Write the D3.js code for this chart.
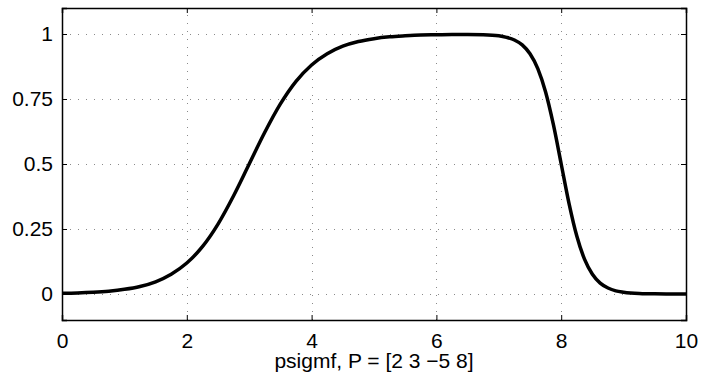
<!DOCTYPE html>
<html>
<head>
<meta charset="utf-8">
<script src="https://cdn.jsdelivr.net/npm/d3@7"></script>
<style>
  body { margin: 0; background: #fff; }
  svg { display: block; font-family: "Liberation Sans", Arial, sans-serif; }
</style>
</head>
<body>
<script>
// values
var xs = [0, 0.25, 0.5, 0.75, 1, 1.25, 1.5, 1.75, 2, 2.25, 2.5, 2.75, 3, 3.25, 3.5, 3.75,
          4, 4.25, 4.5, 4.75, 5, 5.25, 5.5, 5.75, 6, 6.25, 6.5, 6.75, 7, 7.125, 7.25, 7.375,
          7.5, 7.625, 7.75, 7.875, 8, 8.125, 8.25, 8.375, 8.5, 8.625, 8.75, 8.875, 9, 9.25,
          9.5, 9.75, 10];
var ys = [0.0025, 0.004, 0.0067, 0.011, 0.018, 0.029, 0.047, 0.076, 0.119, 0.182, 0.269, 0.378,
          0.5, 0.622, 0.731, 0.818, 0.881, 0.924, 0.953, 0.971, 0.982, 0.989, 0.993, 0.996,
          0.997, 0.998, 0.998, 0.997, 0.993, 0.987, 0.977, 0.958, 0.924, 0.867, 0.777, 0.651,
          0.5, 0.349, 0.223, 0.133, 0.076, 0.042, 0.023, 0.012, 0.007, 0.002, 0.0005, 0.0002, 0];
var xTicks = [0, 2, 4, 6, 8, 10];
var yTicks = [0, 0.25, 0.5, 0.75, 1];
var yTickLabels = ["0", "0.25", "0.5", "0.75", "1"];
var title = "psigmf, P = [2 3 \u22125 8]";

var width = 701, height = 374;
var mLeft = 62, mRight = 686, mTop = 8, mBottom = 320;

var svg = d3.select("body").append("svg")
    .attr("width", width)
    .attr("height", height);

var x = d3.scaleLinear().domain([0, 10]).range([mLeft, mRight]);
var y = d3.scaleLinear().domain([-0.1, 1.1]).range([mBottom, mTop]);

// grid
var grid = svg.append("g").attr("stroke", "#8a8a8a").attr("stroke-width", 1)
    .attr("stroke-dasharray", "1,7");
grid.selectAll(".gx").data(xTicks.slice(1, -1)).enter().append("line")
    .attr("x1", function (d) { return Math.round(x(d)) + 0.5; })
    .attr("x2", function (d) { return Math.round(x(d)) + 0.5; })
    .attr("y1", mBottom).attr("y2", mTop);
grid.selectAll(".gy").data(yTicks).enter().append("line")
    .attr("y1", function (d) { return Math.round(y(d)) + 0.5; })
    .attr("y2", function (d) { return Math.round(y(d)) + 0.5; })
    .attr("x1", mLeft).attr("x2", mRight);

// axes, ticks inward on all four sides
var fs = 21;
svg.append("g").attr("transform", "translate(0," + mBottom + ")")
    .call(d3.axisBottom(x).tickValues(xTicks).tickSize(-5).tickPadding(13).tickFormat(d3.format("d")));
svg.append("g").attr("transform", "translate(0," + mTop + ")")
    .call(d3.axisTop(x).tickValues(xTicks).tickSize(-5).tickFormat(""));
svg.append("g").attr("transform", "translate(" + mLeft + ",0)")
    .call(d3.axisLeft(y).tickValues(yTicks).tickSize(-5).tickPadding(9)
      .tickFormat(function (d, i) { return yTickLabels[i]; }));
svg.append("g").attr("transform", "translate(" + mRight + ",0)")
    .call(d3.axisRight(y).tickValues(yTicks).tickSize(-5).tickFormat(""));

svg.selectAll(".domain").attr("stroke", "#000").attr("stroke-width", 1.5);
svg.selectAll(".tick line").attr("stroke", "#000").attr("stroke-width", 1);
svg.selectAll(".tick text").attr("font-size", fs).attr("fill", "#000")
    .attr("font-family", "Liberation Sans, Arial, sans-serif");

// curve
var pts = xs.map(function (d, i) { return [d, ys[i]]; });
var line = d3.line()
    .x(function (d) { return x(d[0]); })
    .y(function (d) { return y(d[1]); })
    .curve(d3.curveMonotoneX);
svg.append("path").datum(pts)
    .attr("d", line)
    .attr("fill", "none")
    .attr("stroke", "#000")
    .attr("stroke-width", 3.5);

svg.append("text")
    .attr("x", (mLeft + mRight) / 2)
    .attr("y", 368)
    .attr("text-anchor", "middle")
    .attr("font-size", fs)
    .text(title);
</script>
</body>
</html>
